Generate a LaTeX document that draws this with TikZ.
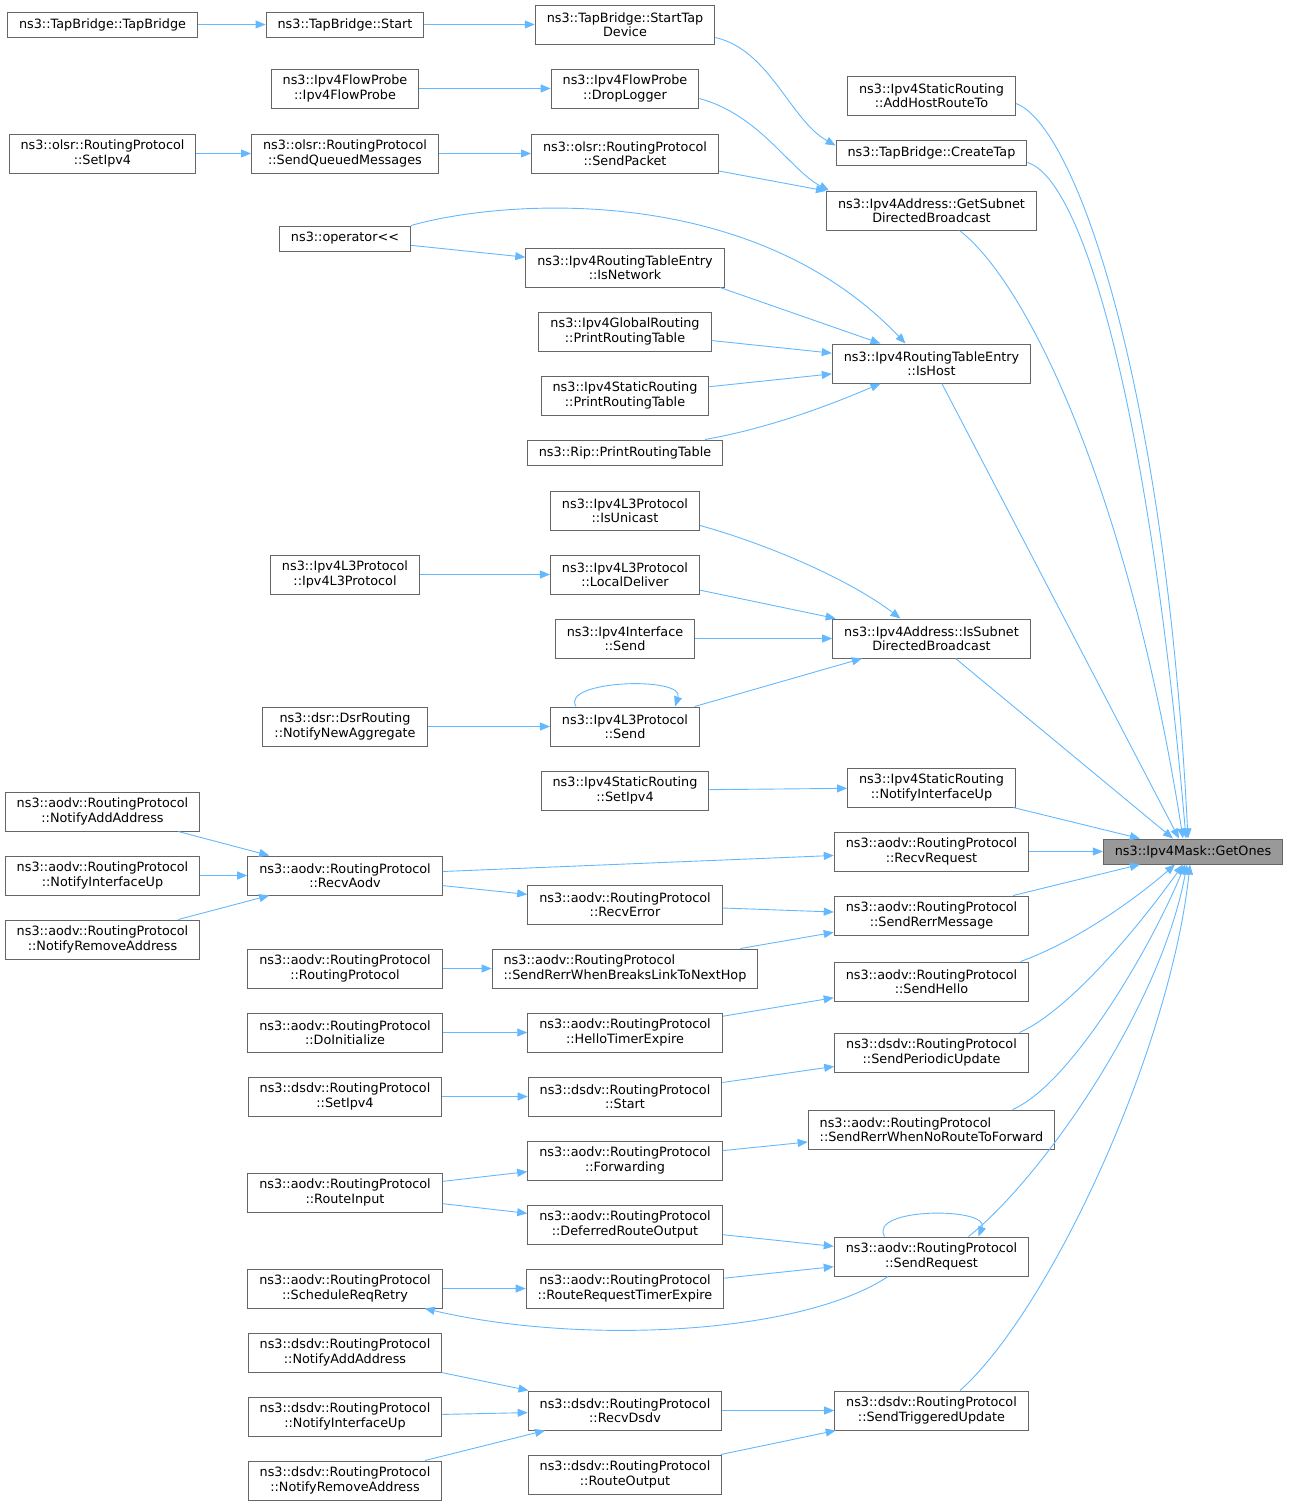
\documentclass[tikz,border=0pt]{standalone}
\usepackage{fontspec}
\setmainfont{DejaVu Sans}
\usetikzlibrary{positioning,calc,arrows.meta}

\definecolor{boxgray}{HTML}{666666}
\definecolor{targetgray}{HTML}{999999}
\definecolor{callblue}{HTML}{63B8FF}

\tikzset{
  fn/.style={draw=boxgray, line width=1pt, fill=white, inner xsep=11.5pt, inner ysep=3pt,
    minimum height=39pt, align=center, font=\fontsize{12.8}{14.5}\selectfont},
  single/.style={minimum height=25pt},
  target/.style={fn, single, fill=targetgray},
  calls/.style={draw=callblue, line width=0.9pt, -{Triangle[length=10pt,width=8pt]}},
}

\begin{document}
\begin{tikzpicture}[x=1pt,y=-1pt]
    \useasboundingbox (0,0) rectangle (1288,1507);

    % TapBridge / FlowProbe / olsr rows
    \node[fn, single] (tbCtor) at (102.5,24.5) {ns3::TapBridge::TapBridge};
    \node[fn, single] (tbStart) at (345,24.5) {ns3::TapBridge::Start};
    \node[fn] (tbStartTap) at (625,24.5) {ns3::TapBridge::StartTap\\Device};
    \node[fn] (fpCtor) at (345,88.5) {ns3::Ipv4FlowProbe\\::Ipv4FlowProbe};
    \node[fn] (fpDrop) at (625,88.5) {ns3::Ipv4FlowProbe\\::DropLogger};
    \node[fn] (addHost) at (931.5,95.5) {ns3::Ipv4StaticRouting\\::AddHostRouteTo};
    \node[fn] (olsrSetIpv4) at (102.5,153.5) {ns3::olsr::RoutingProtocol\\::SetIpv4};
    \node[fn] (olsrQueued) at (345,153.5) {ns3::olsr::RoutingProtocol\\::SendQueuedMessages};
    \node[fn] (olsrSend) at (625,153.5) {ns3::olsr::RoutingProtocol\\::SendPacket};
    \node[fn, single] (createTap) at (931.5,152.5) {ns3::TapBridge::CreateTap};
    \node[fn] (getSubnet) at (931.5,210.5) {ns3::Ipv4Address::GetSubnet\\DirectedBroadcast};

    % routing table entries
    \node[fn, single] (opShift) at (345,238.5) {ns3::operator{<}{<}};
    \node[fn] (isNetwork) at (625,267.5) {ns3::Ipv4RoutingTableEntry\\::IsNetwork};
    \node[fn] (globalPrt) at (625,331.5) {ns3::Ipv4GlobalRouting\\::PrintRoutingTable};
    \node[fn] (isHost) at (931.5,363.5) {ns3::Ipv4RoutingTableEntry\\::IsHost};
    \node[fn] (staticPrt) at (625,395.5) {ns3::Ipv4StaticRouting\\::PrintRoutingTable};
    \node[fn, single] (ripPrt) at (625,452.5) {ns3::Rip::PrintRoutingTable};

    % Ipv4L3Protocol
    \node[fn] (isUnicast) at (625,510.5) {ns3::Ipv4L3Protocol\\::IsUnicast};
    \node[fn] (l3Ctor) at (345,574.5) {ns3::Ipv4L3Protocol\\::Ipv4L3Protocol};
    \node[fn] (localDeliver) at (625,574.5) {ns3::Ipv4L3Protocol\\::LocalDeliver};
    \node[fn] (ifaceSend) at (625,638.5) {ns3::Ipv4Interface\\::Send};
    \node[fn] (isSubnet) at (931.5,638.5) {ns3::Ipv4Address::IsSubnet\\DirectedBroadcast};
    \node[fn] (dsrAggr) at (345,726.5) {ns3::dsr::DsrRouting\\::NotifyNewAggregate};
    \node[fn] (l3Send) at (625,726.5) {ns3::Ipv4L3Protocol\\::Send};
    \node[fn] (staticSetIpv4) at (625,790.5) {ns3::Ipv4StaticRouting\\::SetIpv4};
    \node[fn] (staticIfUp) at (931.5,787.5) {ns3::Ipv4StaticRouting\\::NotifyInterfaceUp};

    \node[target] (ones) at (1193,851.5) {ns3::Ipv4Mask::GetOnes};

    % aodv
    \node[fn] (aodvAddAddr) at (102.5,811.5) {ns3::aodv::RoutingProtocol\\::NotifyAddAddress};
    \node[fn] (aodvIfUp) at (102.5,875.5) {ns3::aodv::RoutingProtocol\\::NotifyInterfaceUp};
    \node[fn] (aodvRemAddr) at (102.5,939.5) {ns3::aodv::RoutingProtocol\\::NotifyRemoveAddress};
    \node[fn] (recvAodv) at (345,875.5) {ns3::aodv::RoutingProtocol\\::RecvAodv};
    \node[fn] (recvRequest) at (931.5,851.5) {ns3::aodv::RoutingProtocol\\::RecvRequest};
    \node[fn] (recvError) at (625,904.5) {ns3::aodv::RoutingProtocol\\::RecvError};
    \node[fn] (sendRerrMsg) at (931.5,915.5) {ns3::aodv::RoutingProtocol\\::SendRerrMessage};
    \node[fn] (aodvCtor) at (345,968.5) {ns3::aodv::RoutingProtocol\\::RoutingProtocol};
    \node[fn, align=left] (rerrBreaks) at (625,968.5) {ns3::aodv::RoutingProtocol\\::SendRerrWhenBreaksLinkToNextHop};
    \node[fn] (sendHello) at (931.5,981.5) {ns3::aodv::RoutingProtocol\\::SendHello};
    \node[fn] (doInit) at (345,1032.5) {ns3::aodv::RoutingProtocol\\::DoInitialize};
    \node[fn] (helloTimer) at (625,1032.5) {ns3::aodv::RoutingProtocol\\::HelloTimerExpire};
    \node[fn] (sendPeriodic) at (931.5,1052.5) {ns3::dsdv::RoutingProtocol\\::SendPeriodicUpdate};
    \node[fn] (dsdvSetIpv4) at (345,1096.5) {ns3::dsdv::RoutingProtocol\\::SetIpv4};
    \node[fn] (dsdvStart) at (625,1096.5) {ns3::dsdv::RoutingProtocol\\::Start};
    \node[fn, align=left] (rerrNoRoute) at (931.5,1129.5) {ns3::aodv::RoutingProtocol\\::SendRerrWhenNoRouteToForward};
    \node[fn] (forwarding) at (625,1160.5) {ns3::aodv::RoutingProtocol\\::Forwarding};
    \node[fn] (routeInput) at (345,1192.5) {ns3::aodv::RoutingProtocol\\::RouteInput};
    \node[fn] (deferred) at (625,1224.5) {ns3::aodv::RoutingProtocol\\::DeferredRouteOutput};
    \node[fn] (sendRequest) at (931.5,1256.5) {ns3::aodv::RoutingProtocol\\::SendRequest};
    \node[fn] (reqRetry) at (345,1288.5) {ns3::aodv::RoutingProtocol\\::ScheduleReqRetry};
    \node[fn] (reqTimer) at (625,1288.5) {ns3::aodv::RoutingProtocol\\::RouteRequestTimerExpire};

    % dsdv
    \node[fn] (dsdvAddAddr) at (345,1352.5) {ns3::dsdv::RoutingProtocol\\::NotifyAddAddress};
    \node[fn] (dsdvIfUp) at (345,1416.5) {ns3::dsdv::RoutingProtocol\\::NotifyInterfaceUp};
    \node[fn] (recvDsdv) at (625,1410.5) {ns3::dsdv::RoutingProtocol\\::RecvDsdv};
    \node[fn] (trigUpdate) at (931.5,1410.5) {ns3::dsdv::RoutingProtocol\\::SendTriggeredUpdate};
    \node[fn] (dsdvRemAddr) at (345,1480.5) {ns3::dsdv::RoutingProtocol\\::NotifyRemoveAddress};
    \node[fn] (routeOutput) at (625,1474.5) {ns3::dsdv::RoutingProtocol\\::RouteOutput};

    % calls, upper part
    \draw[calls] (tbCtor) -- (tbStart);
    \draw[calls] (tbStart) -- (tbStartTap);
    \draw[calls] ([yshift=7pt]tbStartTap.south east) .. controls (770,50) and (790,120) .. ([yshift=-6pt]createTap.north west);
    \draw[calls] (fpCtor) -- (fpDrop);
    \draw[calls] ([yshift=10pt]fpDrop.south east) .. controls (760,115) and (790,170) .. ([xshift=3pt]getSubnet.north west);
    \draw[calls] (olsrSetIpv4) -- (olsrQueued);
    \draw[calls] (olsrQueued) -- (olsrSend);
    \draw[calls] (olsrSend) -- (getSubnet);
    \draw[calls] ([yshift=12pt]addHost.south east) .. controls (1075,125) and (1165,380) .. ([xshift=-5pt]ones.north);
    \draw[calls] ([yshift=3pt]createTap.south east) .. controls (1085,180) and (1150,420) .. ([xshift=-7pt]ones.north);
    \draw[calls] ([xshift=28pt]getSubnet.south) .. controls (1030,285) and (1130,500) .. ([xshift=-10pt]ones.north);

    \draw[calls] (opShift) -- (isNetwork);
    \draw[calls] (opShift.north east) .. controls (500,200) and (750,180) .. ([xshift=-26pt]isHost.north);
    \draw[calls] ([xshift=95pt]isNetwork.south) -- ([xshift=-51pt]isHost.north);
    \draw[calls] (globalPrt) -- (isHost);
    \draw[calls] (staticPrt) -- (isHost);
    \draw[calls] ([xshift=80pt]ripPrt.north) .. controls (770,428) and (830,405) .. ([xshift=-51pt]isHost.south);
    \draw[calls] (isHost) -- ([xshift=-14pt]ones.north);

    \draw[calls] ([yshift=5pt]isUnicast.south east) .. controls (770,545) and (850,580) .. ([xshift=-31pt]isSubnet.north);
    \draw[calls] (l3Ctor) -- (localDeliver);
    \draw[calls] (localDeliver) -- (isSubnet);
    \draw[calls] (ifaceSend) -- (isSubnet);
    \draw[calls] (dsrAggr) -- (l3Send);
    \draw[calls] ([xshift=-49pt]l3Send.north) .. controls (560,680) and (685,676) .. ([xshift=50pt]l3Send.north); % self call
    \draw[calls] (l3Send) -- (isSubnet);
    \draw[calls] (isSubnet) -- ([xshift=-20pt]ones.north);
    \draw[calls] (staticSetIpv4) -- (staticIfUp);
    \draw[calls] (staticIfUp) -- (ones);

    % calls, aodv
    \draw[calls] (aodvAddAddr) -- (recvAodv);
    \draw[calls] (aodvIfUp) -- (recvAodv);
    \draw[calls] (aodvRemAddr) -- (recvAodv);
    \draw[calls] (recvAodv) -- (recvRequest);
    \draw[calls] (recvAodv) -- (recvError);
    \draw[calls] (recvRequest) -- (ones);
    \draw[calls] (recvError) -- (sendRerrMsg);
    \draw[calls] (sendRerrMsg) -- (ones);
    \draw[calls] (aodvCtor) -- (rerrBreaks);
    \draw[calls] (rerrBreaks) -- (sendRerrMsg);
    \draw[calls] ([xshift=89pt]sendHello.north) .. controls (1080,940) and (1140,895) .. ([xshift=-18pt]ones.south);
    \draw[calls] (doInit) -- (helloTimer);
    \draw[calls] (helloTimer) -- (sendHello);
    \draw[calls] ([xshift=88pt]sendPeriodic.north) .. controls (1070,1010) and (1140,925) .. ([xshift=-10pt]ones.south);
    \draw[calls] (dsdvSetIpv4) -- (dsdvStart);
    \draw[calls] (dsdvStart) -- (sendPeriodic);
    \draw[calls] ([xshift=81pt]rerrNoRoute.north) .. controls (1070,1085) and (1150,950) .. ([xshift=-8pt]ones.south);
    \draw[calls] (forwarding) -- (rerrNoRoute);
    \draw[calls] (routeInput) -- (forwarding);
    \draw[calls] (routeInput) -- (deferred);
    \draw[calls] (deferred) -- (sendRequest);
    \draw[calls] ([xshift=-47pt]sendRequest.north) .. controls (868,1207) and (990,1207) .. ([xshift=47pt]sendRequest.north); % self call
    \draw[calls] ([xshift=37pt]sendRequest.north) .. controls (1040,1180) and (1160,1010) .. ([xshift=-6pt]ones.south);
    \draw[calls] (reqRetry) -- (reqTimer);
    \draw[calls] (reqTimer) -- (sendRequest);
    \draw[calls] ([xshift=-43.5pt]sendRequest.south) .. controls (800,1335) and (580,1345) .. ([xshift=-18pt]reqRetry.south east);

    % calls, dsdv
    \draw[calls] (dsdvAddAddr) -- (recvDsdv);
    \draw[calls] (dsdvIfUp) -- (recvDsdv);
    \draw[calls] (dsdvRemAddr) -- (recvDsdv);
    \draw[calls] (recvDsdv) -- (trigUpdate);
    \draw[calls] (routeOutput) -- (trigUpdate);
    \draw[calls] ([xshift=28.5pt]trigUpdate.north) .. controls (1050,1310) and (1170,1050) .. ([xshift=-3pt]ones.south);
\end{tikzpicture}
\end{document}
